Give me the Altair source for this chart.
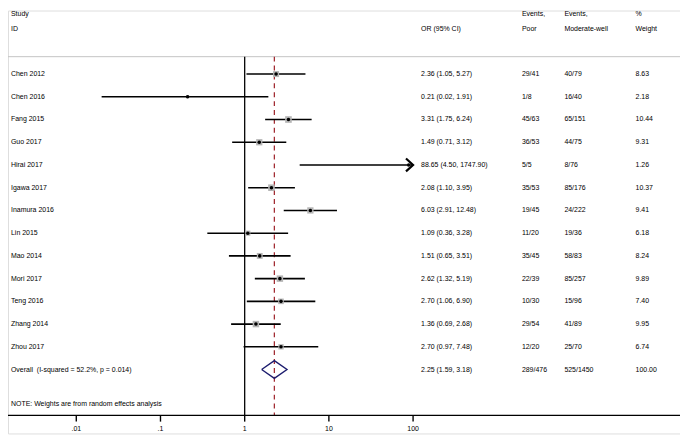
import altair as alt
import pandas as pd

# ---------------- data ----------------
studies = ["Chen 2012", "Chen 2016", "Fang 2015", "Guo 2017", "Hirai 2017", "Igawa 2017",
           "Inamura 2016", "Lin 2015", "Mao 2014", "Mori 2017", "Teng 2016", "Zhang 2014",
           "Zhou 2017"]
or_vals = [2.36, 0.21, 3.31, 1.49, 88.65, 2.08, 6.03, 1.09, 1.51, 2.62, 2.70, 1.36, 2.70]
ci_low = [1.05, 0.02, 1.75, 0.71, 4.50, 1.10, 2.91, 0.36, 0.65, 1.32, 1.06, 0.69, 0.97]
ci_high = [5.27, 1.91, 6.24, 3.12, 1747.90, 3.95, 12.48, 3.28, 3.51, 5.19, 6.90, 2.68, 7.48]
events_poor = ["29/41", "1/8", "45/63", "36/53", "5/5", "35/53", "19/45", "11/20", "35/45",
               "22/39", "10/30", "29/54", "12/20"]
events_mod = ["40/79", "16/40", "65/151", "44/75", "8/76", "85/176", "24/222", "19/36",
              "58/83", "85/257", "15/96", "41/89", "25/70"]
weights = [8.63, 2.18, 10.44, 9.31, 1.26, 10.37, 9.41, 6.18, 8.24, 9.89, 7.40, 9.95, 6.74]

overall_label = "Overall\u00a0 (I-squared = 52.2%, p = 0.014)"
overall_or = 2.25
overall_low = 1.59
overall_high = 3.18
overall_poor = "289/476"
overall_mod = "525/1450"
overall_weight = 100.00

tick_values = [0.01, 0.1, 1, 10, 100]
tick_labels = [".01", ".1", "1", "10", "100"]

note_text = "NOTE: Weights are from random effects analysis"

# ---------------- layout ----------------
W, H = 680, 428
X_ONE_PX, DECADE_PX = 239.5, 85.2
ROW0_PX, ROW_PX = 64.3, 23.0
FONT = "Liberation Sans"
FS = 7.05

x_domain = [10 ** (-X_ONE_PX / DECADE_PX), 10 ** ((W - X_ONE_PX) / DECADE_PX)]
y_domain = [-ROW0_PX / ROW_PX, (H - ROW0_PX) / ROW_PX]


def px_row(p):
    return (p - ROW0_PX) / ROW_PX


row_h1, row_h2 = px_row(3.2), px_row(18.7)
row_sep = px_row(46.7)
row_note = px_row(398.0)
row_axis = px_row(409.7)
row_tick_end = px_row(416.0)
row_tick_lab = px_row(423.5)
x_max = tick_values[-1]

xscale = alt.Scale(type="log", domain=x_domain, nice=False, zero=False)
yscale = alt.Scale(domain=y_domain, nice=False, zero=False, reverse=True)


def X(field):
    return alt.X(field, type="quantitative", scale=xscale, axis=None)


def Y(field):
    return alt.Y(field, type="quantitative", scale=yscale, axis=None)


n = len(studies)
df = pd.DataFrame({
    "study": studies,
    "or": or_vals,
    "lo": ci_low,
    "hi": ci_high,
    "hi_plot": [min(h, x_max) for h in ci_high],
    "arrow": [h > x_max for h in ci_high],
    "weight": weights,
    "row": list(range(n)),
})

# table text (headers + studies + overall)
table = pd.DataFrame({
    "row": [row_h1, row_h2] + list(range(n)) + [n],
    "c_study": ["Study", "ID"] + studies + [overall_label],
    "c_or": ["", "OR (95% CI)"]
            + [f"{o:.2f} ({l:.2f}, {h:.2f})" for o, l, h in zip(or_vals, ci_low, ci_high)]
            + [f"{overall_or:.2f} ({overall_low:.2f}, {overall_high:.2f})"],
    "c_poor": ["Events,", "Poor"] + events_poor + [overall_poor],
    "c_mod": ["Events,", "Moderate-well"] + events_mod + [overall_mod],
    "c_w": ["%", "Weight"] + [f"{w:.2f}" for w in weights] + [f"{overall_weight:.2f}"],
})

diamond_half = 9.0 / ROW_PX
diamond = pd.DataFrame({
    "x": [overall_low, overall_or, overall_high, overall_or, overall_low],
    "y": [n, n - diamond_half, n, n + diamond_half, n],
    "o": [0, 1, 2, 3, 4],
})

vlines = pd.DataFrame({"x": [1.0], "ya": [row_sep], "yb": [row_axis]})
dline = pd.DataFrame({"x": [overall_or], "ya": [row_sep], "yb": [row_axis]})
sep = pd.DataFrame({"row": [row_sep]})
note = pd.DataFrame({"row": [row_note], "t": [note_text]})
axis_line = pd.DataFrame({"row": [row_axis]})
ticks = pd.DataFrame({"x": tick_values, "label": tick_labels,
                      "ya": [row_axis] * len(tick_values),
                      "yb": [row_tick_end] * len(tick_values),
                      "yl": [row_tick_lab] * len(tick_values)})

layers = []

layers.append(alt.Chart(sep).mark_rule(color="#c4c4c4", strokeWidth=1).encode(
    y=Y("row"), x=alt.value(0), x2=alt.value(W)))

layers.append(alt.Chart(vlines).mark_rule(color="black", strokeWidth=1.3).encode(
    x=X("x"), y=Y("ya"), y2="yb"))

layers.append(alt.Chart(dline).mark_rule(color="#9b1c24", strokeWidth=1.2,
                                         strokeDash=[5, 4]).encode(
    x=X("x"), y=Y("ya"), y2="yb"))

# x axis: line, ticks, labels
layers.append(alt.Chart(axis_line).mark_rule(color="black", strokeWidth=1.4).encode(
    y=Y("row"), x=alt.value(0), x2=alt.value(W)))
tick_base = alt.Chart(ticks)
layers.append(tick_base.mark_rule(color="black", strokeWidth=1.4).encode(
    x=X("x"), y=Y("ya"), y2="yb"))
layers.append(tick_base.mark_text(align="center", baseline="middle", font=FONT,
                                  fontSize=FS, color="black").encode(
    x=X("x"), y=Y("yl"), text="label:N"))

base = alt.Chart(df)
layers.append(base.mark_rule(color="black", strokeWidth=1.6).encode(
    x=X("lo"), x2="hi_plot", y=Y("row")))

layers.append(base.mark_square(filled=True, color="#b5b5b5", opacity=1).encode(
    x=X("or"), y=Y("row"),
    size=alt.Size("weight:Q", scale=alt.Scale(domain=[0, 12], range=[0, 12 * 4.3]),
                  legend=None)))

layers.append(base.mark_circle(color="black", size=13, opacity=1).encode(
    x=X("or"), y=Y("row")))

layers.append(base.transform_filter("datum.arrow").mark_point(
    shape="M-1.1,-1L0,0L-1.1,1", size=170, filled=False, stroke="black",
    strokeWidth=2.2, opacity=1).encode(x=X("hi_plot"), y=Y("row")))

layers.append(alt.Chart(diamond).mark_line(color="#1c1c6e", strokeWidth=1.4).encode(
    x=X("x"), y=Y("y"), order="o:Q"))

tbase = alt.Chart(table)
for col, px in [("c_study", 3), ("c_or", 418), ("c_poor", 520), ("c_mod", 563), ("c_w", 635)]:
    layers.append(tbase.mark_text(align="left", baseline="middle", font=FONT, fontSize=FS,
                                  color="black").encode(
        x=alt.value(px), y=Y("row"), text=f"{col}:N"))

layers.append(alt.Chart(note).mark_text(align="left", baseline="middle", font=FONT,
                                        fontSize=FS, color="black").encode(
    x=alt.value(3), y=Y("row"), text="t:N"))

chart = alt.layer(*layers).properties(
    width=W, height=H, padding=0,
    autosize=alt.AutoSizeParams(type="none"),
).configure_view(stroke=None).configure(background="white")

chart.save("out.html", embed_options={"renderer": "svg", "actions": False})
